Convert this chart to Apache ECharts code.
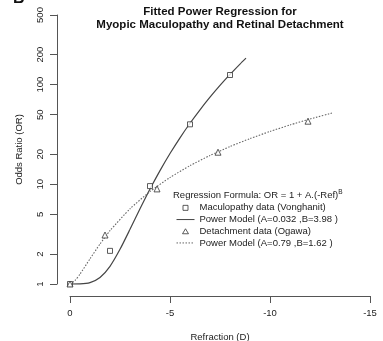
<!DOCTYPE html>
<html>
<head>
<meta charset="utf-8">
<script src="https://cdn.jsdelivr.net/npm/echarts@6/dist/echarts.min.js"></script>
<style>html,body{margin:0;padding:0;background:#fff}#c{width:383px;height:341px}</style>
</head>
<body>
<div id="c"></div>
<script>
// Data
const vongX = [0, -2, -4, -6, -8];
const vongY = [1, 2.15, 9.6, 40, 125];
const ogawaX = [0, -1.75, -4.35, -7.4, -11.9];
const ogawaY = [1, 3.1, 9, 21, 43];
// Fitted curves
const solidX = [0, -0.5, -1, -1.5, -2, -2.5, -3, -3.5, -4, -4.5, -5, -5.5, -6, -6.5, -7, -7.5, -8, -8.5, -8.8];
const solidY = [1, 1.002, 1.032, 1.161, 1.505, 2.228, 3.535, 5.68, 8.97, 13.73, 20.37, 29.3, 41.0, 56.0, 74.9, 98.3, 126.7, 161, 184.7];
const dottedX = [0, -0.25, -0.5, -1, -1.5, -2, -3, -4, -5, -6, -7, -8, -9, -10, -11, -12, -13.15];
const dottedY = [1, 1.084, 1.257, 1.79, 2.52, 3.43, 5.68, 8.46, 11.71, 15.4, 19.48, 23.94, 28.77, 33.93, 39.43, 45.25, 52.2];
const yTicks = [1, 2, 5, 10, 20, 50, 100, 200, 500];
const names = ['Maculopathy data (Vonghanit)', 'Power Model (A=0.032 ,B=3.98 )', 'Detachment data (Ogawa)', 'Power Model (A=0.79 ,B=1.62 )'];

const zip = (xs, ys) => xs.map((x, i) => [x, ys[i]]);
const FONT = 'Liberation Sans, Arial, Helvetica, sans-serif';
const AX = '#555';
const hidden = {color: 'rgba(0,0,0,0)', borderWidth: 0, borderColor: 'rgba(0,0,0,0)'};
const chart = echarts.init(document.getElementById('c'), null, {renderer: 'canvas'});
chart.setOption({
  animation: false,
  textStyle: {fontFamily: FONT},
  grid: {left: 70, right: 13, top: 15, bottom: 57, containLabel: false, outerBoundsMode: 'none'},
  graphic: [
    {type: 'text', left: 13, top: -9, style: {text: 'B', font: 'bold 16px ' + FONT, fill: '#111'}},
    {type: 'text', x: 220, y: 5, style: {text: 'Fitted Power Regression for\nMyopic Maculopathy and Retinal Detachment', font: 'bold 11.5px ' + FONT, fill: '#111', align: 'center', verticalAlign: 'top', lineHeight: 13}},
    {type: 'text', x: 173, y: 189, style: {text: 'Regression Formula: OR = 1 + A.(-Ref){s|B}', font: '9.5px ' + FONT, fill: '#222', rich: {s: {fontSize: 6.5, verticalAlign: 'top', padding: [0, 0, 5, 0], fontFamily: FONT}}}}
  ],
  legend: {
    orient: 'vertical', left: 171, top: 197, itemGap: 0, itemWidth: 18, itemHeight: 5,
    textStyle: {fontSize: 9.5, color: '#222', lineHeight: 11.7, fontFamily: FONT},
    data: [
      {name: names[0], icon: 'path://M0,0M18,5M6.5,0H11.5V5H6.5Z', itemStyle: {color: '#fff', borderColor: '#333', borderWidth: 1}},
      {name: names[1], itemStyle: hidden, lineStyle: {width: 1}},
      {name: names[2], icon: 'path://M0,0M18,5M9,0L12,5H6Z', itemStyle: {color: '#fff', borderColor: '#333', borderWidth: 1}},
      {name: names[3], itemStyle: hidden, lineStyle: {width: 1}}
    ]
  },
  xAxis: {
    type: 'value', min: -15, max: 0, interval: 5, inverse: true, offset: 12,
    name: 'Refraction (D)', nameLocation: 'middle', nameGap: 36,
    nameTextStyle: {fontSize: 9.5, color: '#222', fontFamily: FONT},
    axisLine: {show: true, onZero: false, lineStyle: {color: AX, width: 1}},
    axisTick: {show: true, length: 7, lineStyle: {color: AX}},
    axisLabel: {fontSize: 9.5, color: '#222', margin: 12, fontFamily: FONT},
    splitLine: {show: false}
  },
  yAxis: {
    type: 'log', logBase: 10, min: 1, max: 500, offset: 13,
    name: 'Odds Ratio (OR)', nameLocation: 'middle', nameGap: 33, nameRotate: 90,
    nameTextStyle: {fontSize: 9.5, color: '#222', fontFamily: FONT},
    axisLine: {show: true, onZero: false, lineStyle: {color: AX, width: 1}},
    axisTick: {show: true, length: 7, lineStyle: {color: AX}, customValues: yTicks},
    axisLabel: {fontSize: 9.5, color: '#222', margin: 12, rotate: 90, customValues: yTicks, fontFamily: FONT},
    splitLine: {show: false}, minorTick: {show: false}
  },
  series: [
    {name: names[0], type: 'scatter', data: zip(vongX, vongY), symbol: 'rect', symbolSize: 5, clip: false, z: 5,
     itemStyle: {color: '#fff', borderColor: '#333', borderWidth: 1}},
    {name: names[1], type: 'line', data: zip(solidX, solidY), symbol: 'none', clip: false, smooth: 0.2,
     lineStyle: {color: '#444', width: 1.2, type: 'solid'}, itemStyle: {color: '#444'}},
    {name: names[2], type: 'scatter', data: zip(ogawaX, ogawaY), symbol: 'triangle', symbolSize: 6, clip: false, z: 5,
     itemStyle: {color: '#fff', borderColor: '#333', borderWidth: 1}},
    {name: names[3], type: 'line', data: zip(dottedX, dottedY), symbol: 'none', clip: false, smooth: 0.2,
     lineStyle: {color: '#666', width: 1.1, type: [1.5, 1.5]}, itemStyle: {color: '#666'}}
  ]
});
</script>
</body>
</html>
